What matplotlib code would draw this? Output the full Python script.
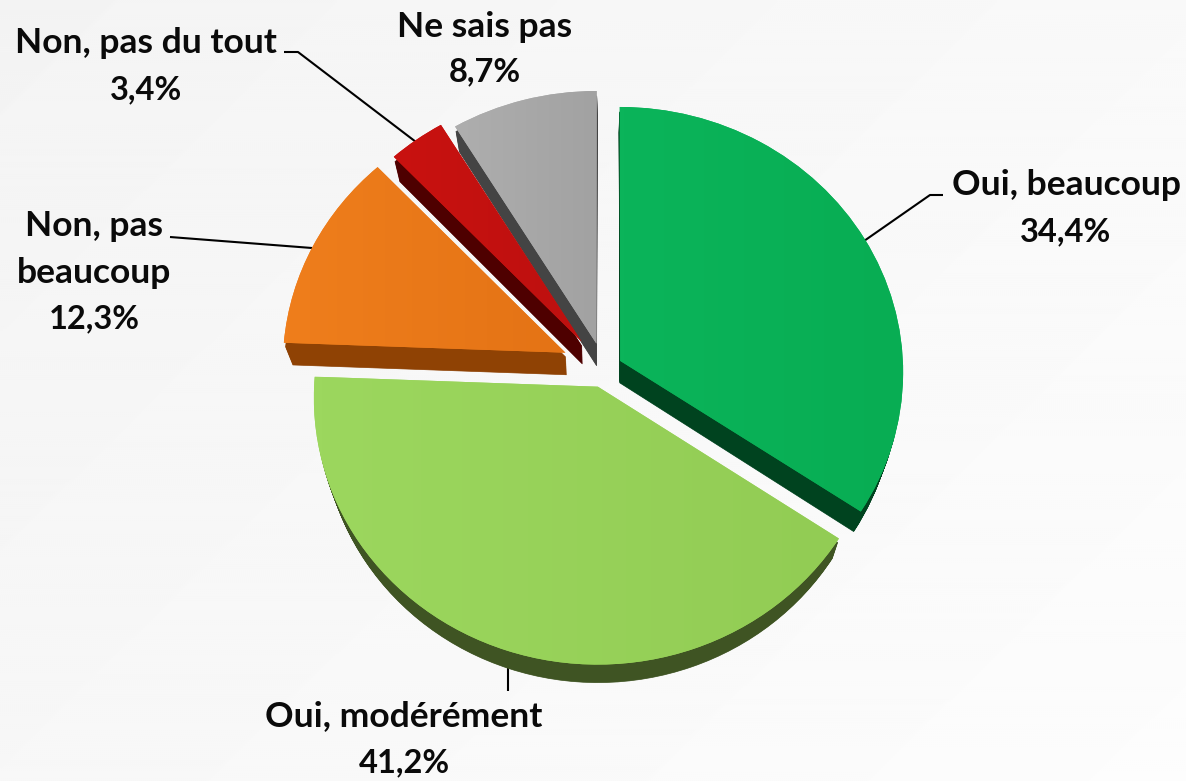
import numpy as np
import matplotlib
matplotlib.use('Agg')
import matplotlib.pyplot as plt
from matplotlib.colors import to_rgb
from matplotlib.transforms import Affine2D, Transform

labels = ['Oui, beaucoup', 'Oui, modérément', 'Non, pas', 'beaucoup',
          'Non, pas du tout', 'Ne sais pas']
values = [34.4, 41.2, 12.3, 3.4, 8.7]
value_labels = ['34,4%', '41,2%', '12,3%', '3,4%', '8,7%']

explode = [0.065, 0.07, 0.15, 0.13, 0.10]
colors_left = ['#0BB45A', '#9CD75E', '#EF7E1C', '#C9120F', '#AEAEAE']
colors_right = ['#08AD53', '#92CC54', '#E47315', '#BD1010', '#A2A2A2']
colors_side = ['#00431F', '#3F5423', '#8F4204', '#4E0000', '#444444']
draw_order = [4, 3, 2, 0, 1]


class Tilt(Transform):
    # unit pie -> pixels, far edge a bit smaller than the near edge
    input_dims = 2
    output_dims = 2

    def transform_non_affine(self, values):
        values = np.asarray(values, dtype=float)
        w = 1 + 0.041 * values[:, 1]
        return np.column_stack((604 + 283 * values[:, 0] / w,
                                369 - 265 * values[:, 1] / w))


def depth(t):
    return (Affine2D().translate(-605, -2050)
            .scale(1 - 0.028 * t, 1 - 0.013 * t).translate(605, 2050))


fig = plt.figure(figsize=(11.86, 7.81), dpi=100)
ax = fig.add_axes([0, 0, 1, 1])

wedges, _ = ax.pie(values, explode=explode, startangle=90, counterclock=False,
                   colors=colors_left, radius=1)
tilt = Tilt()

zorder = 2
for i in draw_order:
    # side of the slice: dark copies swept down to the bottom face
    for t in np.linspace(1, 0.2, 22):
        side, _ = ax.pie([values[i], 100 - values[i]], startangle=90 - sum(values[:i]) * 3.6,
                         counterclock=False, colors=[colors_side[i], 'none'],
                         radius=1, center=wedges[i].center)
        side[0].set_transform(tilt + depth(t) + ax.transData)
        side[0].set_edgecolor(colors_side[i])
        side[0].set_linewidth(0.5)
        side[0].set_zorder(zorder)
        side[1].set_visible(False)
    zorder += 1
    wedges[i].set_transform(tilt + ax.transData)
    wedges[i].set_zorder(zorder)
    zorder += 1
    box = wedges[i].get_path().transformed(tilt + Affine2D()).get_extents()
    grad = np.linspace(to_rgb(colors_left[i]), to_rgb(colors_right[i]), 64)[None, :, :]
    im = ax.imshow(grad, extent=[box.x0, box.x1, box.y1, box.y0], aspect='auto',
                   zorder=zorder)
    im.set_clip_path(wedges[i])
    zorder += 1

# background, nearly white, a bit darker to the top left
xx, yy = np.meshgrid(np.linspace(0, 1, 593), np.linspace(0, 1, 390))
bg = 0.955 + 0.035 * (0.6 * xx + 0.4 * yy)
ax.imshow(bg, extent=[0, 1186, 781, 0], cmap='gray', vmin=0, vmax=1, aspect='auto',
          zorder=0)

ax.set_aspect('auto')
ax.set_xlim(0, 1186)
ax.set_ylim(781, 0)
ax.axis('off')

# leader lines
line = dict(color='black', lw=1.5, zorder=1, solid_capstyle='butt')
ax.plot([284, 298, 416], [52, 52, 142], **line)
ax.plot([170, 312], [237, 248], **line)
ax.plot([943, 930, 864], [195, 195, 241], **line)
ax.plot([508, 508], [660, 691], **line)

font = dict(family='Lato', fontweight='bold', fontsize=25.5, color='#0a0a0a',
            ha='center', va='center')
num = dict(font, fontsize=23.5)
ax.text(1066, 185, labels[0], **font)
ax.text(1066, 232, value_labels[0], **num)
ax.text(404, 716, labels[1], **font)
ax.text(404, 763, value_labels[1], **num)
ax.text(94, 226, labels[2], **font)
ax.text(94, 273, labels[3], **font)
ax.text(94, 319, value_labels[2], **num)
ax.text(146, 43, labels[4], **font)
ax.text(146, 90, value_labels[3], **num)
ax.text(485, 27, labels[5], **font)
ax.text(485, 72, value_labels[4], **num)

fig.savefig('out.png', dpi=100)
